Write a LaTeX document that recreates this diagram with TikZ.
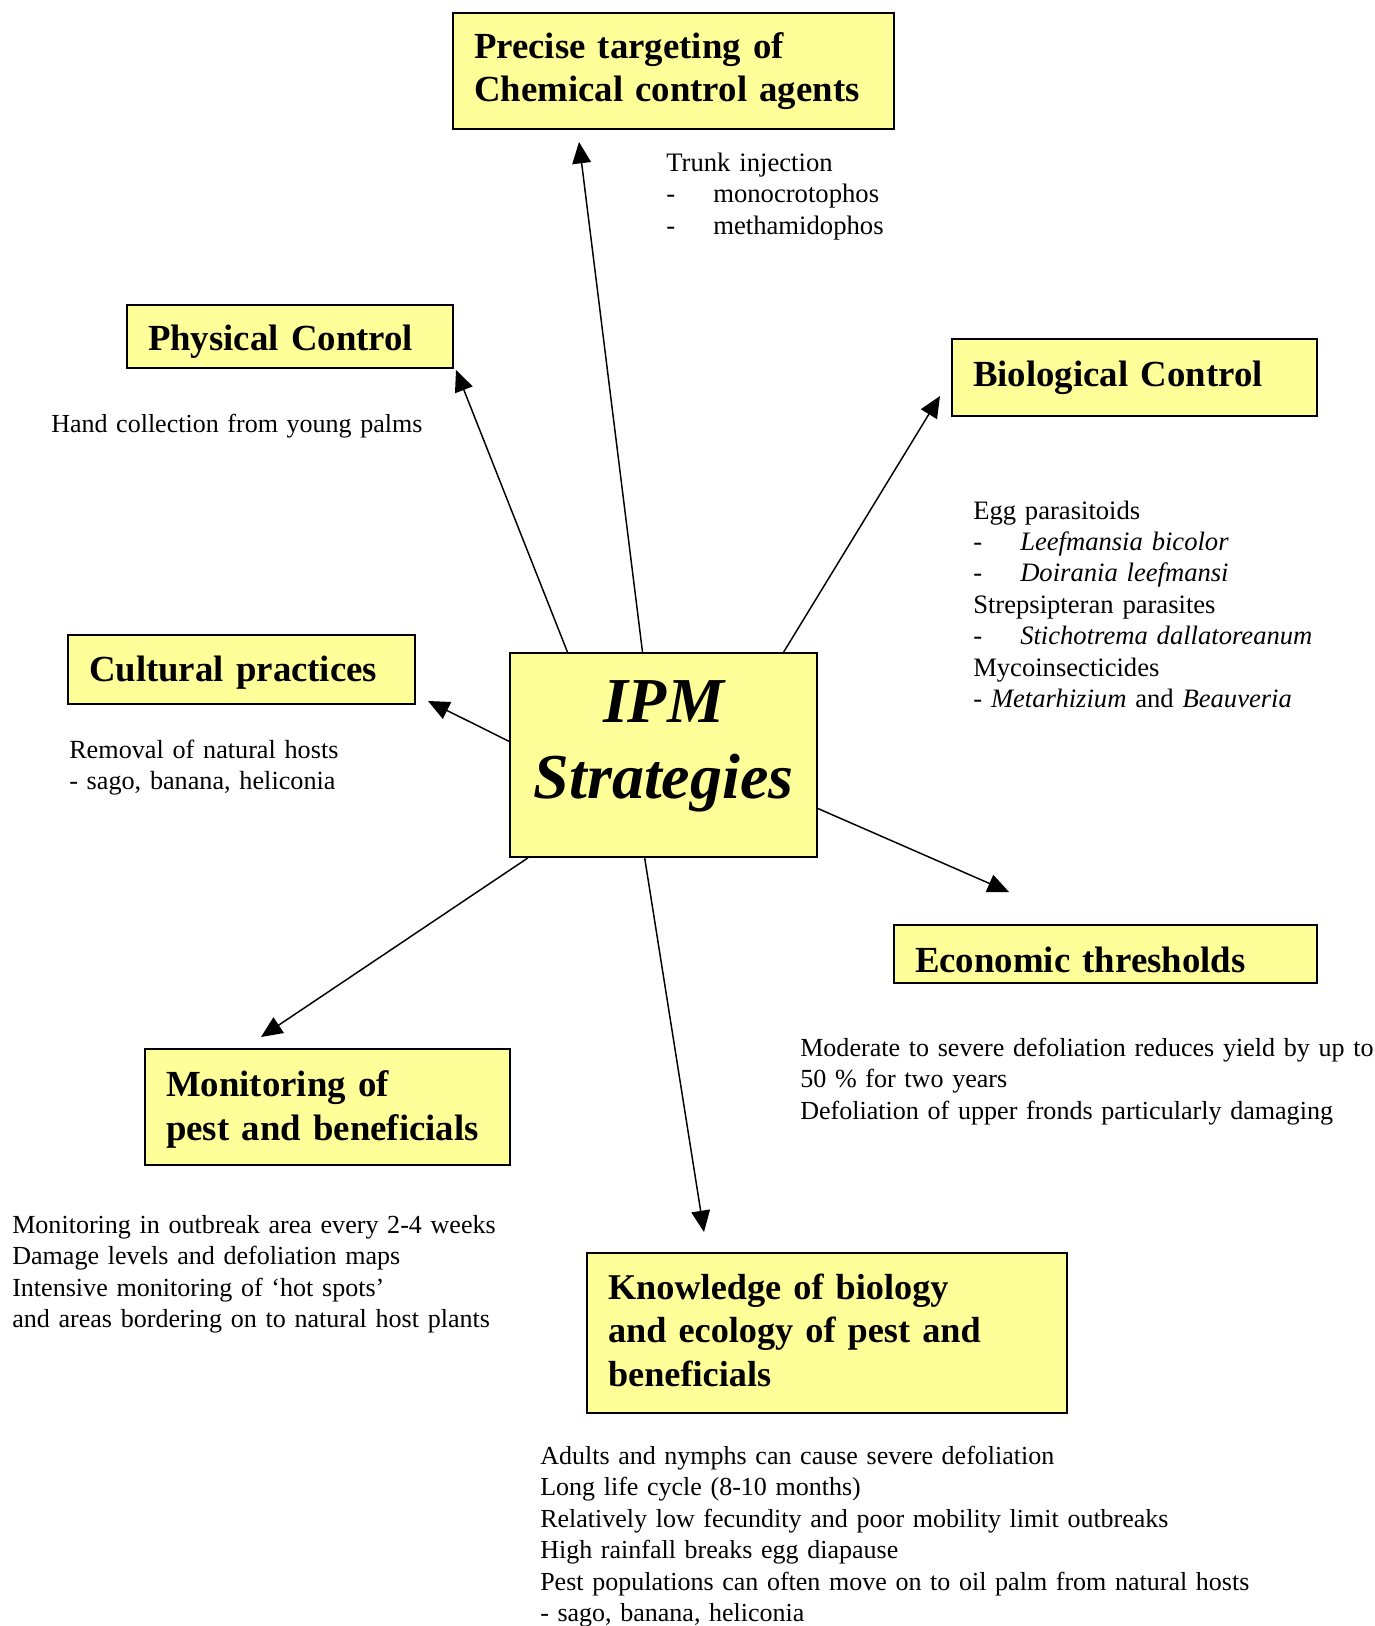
\documentclass[tikz,border=0pt]{standalone}
\usepackage{fontspec}
\setmainfont{Liberation Serif}
\usetikzlibrary{arrows.meta,calc}
\definecolor{boxyellow}{HTML}{FFFF99}
\tikzset{
 boxnode/.style={draw=black, line width=1.3pt, fill=boxyellow, inner xsep=15.75pt, inner ysep=0pt, align=left, font=\fontsize{27.6}{32.6}\selectfont\bfseries, anchor=center},
 plaintext/.style={anchor=base west, inner sep=0pt, align=left, text width=600pt, font=\fontsize{#1}{23.6}\selectfont},
 plaintext/.default=20,
 arr/.style={line width=1.1pt, -{Triangle[length=16pt,width=14pt]}}
}
\newcommand{\dashind}{\makebox[35.25pt][l]{-}}
\begin{document}
\begin{tikzpicture}[x=0.75pt,y=-0.75pt]
\useasboundingbox (0,0) rectangle (1374,1626);
\fill[white] (0,0) rectangle (1374,1626);

\node[boxnode, minimum width=330.75pt, minimum height=87pt, text width=299.25pt] (chem) at (673.5,71) {Precise targeting of\\Chemical control agents};
\node[boxnode, minimum width=244.5pt, minimum height=47.25pt, text width=213pt, text height=23.6pt, text depth=3pt] (phys) at (290,336.5) {Physical Control};
\node[boxnode, minimum width=273.75pt, minimum height=57.75pt, text width=242.25pt] (biol) at (1134.5,377.5) {Biological Control};
\node[boxnode, minimum width=260.25pt, minimum height=51.75pt, text width=228.75pt, text height=20.4pt, text depth=3pt] (cult) at (241.5,669.5) {Cultural practices};
\node[boxnode, minimum width=230.25pt, minimum height=153pt, align=center, font=\fontsize{48}{57}\selectfont\bfseries\itshape] (ipm) at (663.5,755) {IPM\\Strategies\rule[-23pt]{0pt}{1pt}};
\node[boxnode, minimum width=317.25pt, minimum height=43.5pt, text width=285.75pt, text height=30.5pt, text depth=3pt] (econ) at (1105.5,954) {Economic thresholds};
\node[boxnode, minimum width=273.75pt, minimum height=87pt, text width=242.25pt] (moni) at (327.5,1107) {\rule{0pt}{23pt}Monitoring of\\pest and beneficials};
\node[boxnode, minimum width=360pt, minimum height=120pt, text width=328.5pt, font=\fontsize{27.2}{32.6}\selectfont\bfseries] (know) at (827,1333) {Knowledge of biology\\and ecology of pest and\\beneficials\rule[-4.5pt]{0pt}{1pt}};

\coordinate (tA) at (579,142);
\coordinate (tB) at (456,370);
\coordinate (tC) at (940,396);
\coordinate (tD) at (428,701);
\coordinate (tE) at (1009,892);
\coordinate (tF) at (261,1037);
\coordinate (tG) at (704,1232);

\draw[arr] ($(ipm.north west)!0.432!(ipm.north east)$) -- (tA);
\draw[arr] ($(ipm.north west)!0.189!(ipm.north east)$) -- (tB);
\draw[arr] ($(ipm.north west)!0.889!(ipm.north east)$) -- (tC);
\draw[arr] ($(ipm.north west)!0.434!(ipm.south west)$) -- (tD);
\draw[arr] ($(ipm.north east)!0.760!(ipm.south east)$) -- (tE);
\draw[arr] ($(ipm.south west)!0.061!(ipm.south east)$) -- (tF);
\draw[arr] ($(ipm.south west)!0.439!(ipm.south east)$) -- (tG);

\node[plaintext=20] (trunktxt) at (666,171.5) {Trunk injection\\\dashind monocrotophos\\\dashind methamidophos};
\node[plaintext=19.5] (handtxt) at (51,432.5) {Hand collection from young palms};
\node[plaintext=19.95] (eggtxt) at (973,519) {Egg parasitoids\\\dashind\textit{Leefmansia bicolor}\\\dashind\textit{Doirania leefmansi}\\Strepsipteran parasites\\\dashind\textit{Stichotrema dallatoreanum}\\Mycoinsecticides\\- \textit{Metarhizium} and \textit{Beauveria}};
\node[plaintext=19.65] (remtxt) at (69,758.5) {Removal of natural hosts\\- sago, banana, heliconia};
\node[plaintext=19.55] (modtxt) at (800,1056.5) {Moderate to severe defoliation reduces yield by up to\\50 \% for two years\\Defoliation of upper fronds particularly damaging};
\node[plaintext=19.55] (montxt) at (12,1233.5) {Monitoring in outbreak area every 2-4 weeks\\Damage levels and defoliation maps\\Intensive monitoring of ‘hot spots’\\and areas bordering on to natural host plants};
\node[plaintext=19.5] (adtxt) at (540,1464.5) {Adults and nymphs can cause severe defoliation\\Long life cycle (8-10 months)\\Relatively low fecundity and poor mobility limit outbreaks\\High rainfall breaks egg diapause\\Pest populations can often move on to oil palm from natural hosts\\- sago, banana, heliconia};
\end{tikzpicture}
\end{document}
